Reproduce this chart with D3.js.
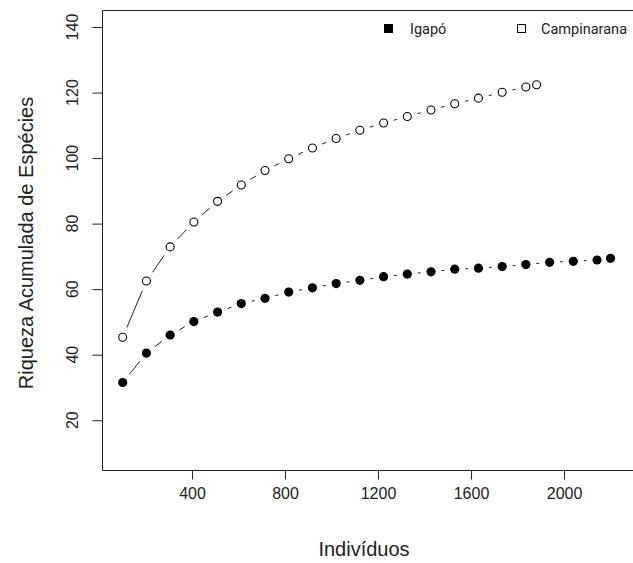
<!DOCTYPE html>
<meta charset="utf-8">
<style type="text/css">
  body { margin: 0; background: #fff; overflow: hidden; }
  text { font-family: "Liberation Sans", Arial, sans-serif; fill: #222; }
  .legend text { font-family: Roboto, "Liberation Sans", sans-serif; }
</style>
<body>
</body>
<script src="https://d3js.org/d3.v7.min.js"></script>
<script>
  // rarefaction curves
  var igapoX = [102, 204, 306, 408, 510, 612, 714, 816, 918, 1020, 1122,
    1224, 1326, 1428, 1530, 1632, 1734, 1836, 1938, 2040, 2142, 2200];
  var igapoY = [31.5, 40.5, 46.0, 50.1, 53.0, 55.6, 57.2, 59.1, 60.4, 61.7, 62.7,
    63.8, 64.6, 65.3, 66.1, 66.4, 66.9, 67.5, 68.2, 68.5, 68.9, 69.4];

  var campX = [102, 204, 306, 408, 510, 612, 714, 816, 918, 1020, 1122,
    1224, 1326, 1428, 1530, 1632, 1734, 1836, 1882];
  var campY = [45.3, 62.5, 72.9, 80.5, 86.8, 91.8, 96.2, 99.8, 103.1, 106.0, 108.5,
    110.7, 112.7, 114.7, 116.6, 118.3, 120.1, 121.7, 122.4];

  var xTicks = [400, 800, 1200, 1600, 2000];
  var yTicks = [20, 40, 60, 80, 100, 120, 140];
  var legendLabels = ["Igapó", "Campinarana"];

  var width = 633, height = 563;
  var box = { left: 102, top: 10, right: 641, bottom: 470 };

  var xScale = d3.scaleLinear().domain([13, 2331]).range([box.left, box.right]);
  var yScale = d3.scaleLinear().domain([4.8, 145.2]).range([box.bottom, box.top]);

  var svg = d3.select("body").append("svg")
    .attr("width", width)
    .attr("height", height)
    .style("display", "block");

  // plot box (right side falls outside the crop)
  svg.append("path")
    .attr("d", "M" + width + "," + (box.top + 0.5) +
      "H" + (box.left + 0.5) +
      "V" + (box.bottom + 0.5) +
      "H" + width)
    .attr("fill", "none")
    .attr("stroke", "#222")
    .attr("stroke-width", 1);

  // x axis
  var xAxis = svg.append("g")
    .attr("transform", "translate(0," + (box.bottom + 0.5) + ")")
    .call(d3.axisBottom(xScale).tickValues(xTicks).tickSize(9).tickPadding(8)
      .tickFormat(d3.format("d")));
  xAxis.select(".domain").remove();
  xAxis.selectAll("line").attr("stroke", "#222");
  xAxis.selectAll("text")
    .attr("font-size", 16)
    .attr("font-family", "Liberation Sans, Arial, sans-serif")
    .attr("fill", "#222");

  // y axis: labels rotated like R's default
  var yAxis = svg.append("g")
    .attr("transform", "translate(" + (box.left + 0.5) + ",0)")
    .call(d3.axisLeft(yScale).tickValues(yTicks).tickSize(10).tickFormat(""));
  yAxis.select(".domain").remove();
  yAxis.selectAll("line").attr("stroke", "#222");

  svg.append("g").selectAll("text")
    .data(yTicks)
    .enter().append("text")
    .attr("transform", function(d) {
      return "translate(78," + yScale(d) + ") rotate(-90)";
    })
    .attr("text-anchor", "middle")
    .attr("font-size", 16)
    .text(function(d) { return d; });

  // axis titles
  svg.append("text")
    .attr("x", 364)
    .attr("y", 556)
    .attr("text-anchor", "middle")
    .attr("font-size", 20)
    .text("Indivíduos");

  svg.append("text")
    .attr("transform", "translate(33," + ((box.top + box.bottom) / 2 + 3) + ") rotate(-90)")
    .attr("text-anchor", "middle")
    .attr("font-size", 20)
    .text("Riqueza Acumulada de Espécies");

  // type = "b": segments with gaps around each point
  function drawSeries(xs, ys, filled) {
    var pts = xs.map(function(x, i) { return [xScale(x), yScale(ys[i])]; });
    var gap = 10.5;
    var g = svg.append("g");
    for (var i = 0; i < pts.length - 1; i++) {
      var a = pts[i], b = pts[i + 1];
      var dx = b[0] - a[0], dy = b[1] - a[1];
      var len = Math.sqrt(dx * dx + dy * dy);
      if (len <= 2 * gap) continue;
      var ux = dx / len, uy = dy / len;
      g.append("line")
        .attr("x1", a[0] + ux * gap).attr("y1", a[1] + uy * gap)
        .attr("x2", b[0] - ux * gap).attr("y2", b[1] - uy * gap)
        .attr("stroke", "#222")
        .attr("stroke-width", 1);
    }
    g.selectAll("circle")
      .data(pts)
      .enter().append("circle")
      .attr("cx", function(d) { return d[0]; })
      .attr("cy", function(d) { return d[1]; })
      .attr("r", filled ? 4.6 : 4)
      .attr("fill", filled ? "#000" : "#fff")
      .attr("stroke", "#000")
      .attr("stroke-width", filled ? 0 : 1.1);
  }

  drawSeries(campX, campY, false);
  drawSeries(igapoX, igapoY, true);

  // legend
  var legend = svg.append("g").attr("class", "legend");
  var legendPos = [{ sx: 388, tx: 410 }, { sx: 521, tx: 541 }];
  legendLabels.forEach(function(lab, i) {
    legend.append("rect")
      .attr("x", legendPos[i].sx - 4 + 0.5)
      .attr("y", 24.5)
      .attr("width", 8)
      .attr("height", 8)
      .attr("fill", i === 0 ? "#000" : "#fff")
      .attr("stroke", "#000")
      .attr("stroke-width", 1);
    legend.append("text")
      .attr("x", legendPos[i].tx)
      .attr("y", 33.5)
      .attr("font-size", 14.5)
      .attr("font-weight", 400)
      .text(lab);
  });
</script>
